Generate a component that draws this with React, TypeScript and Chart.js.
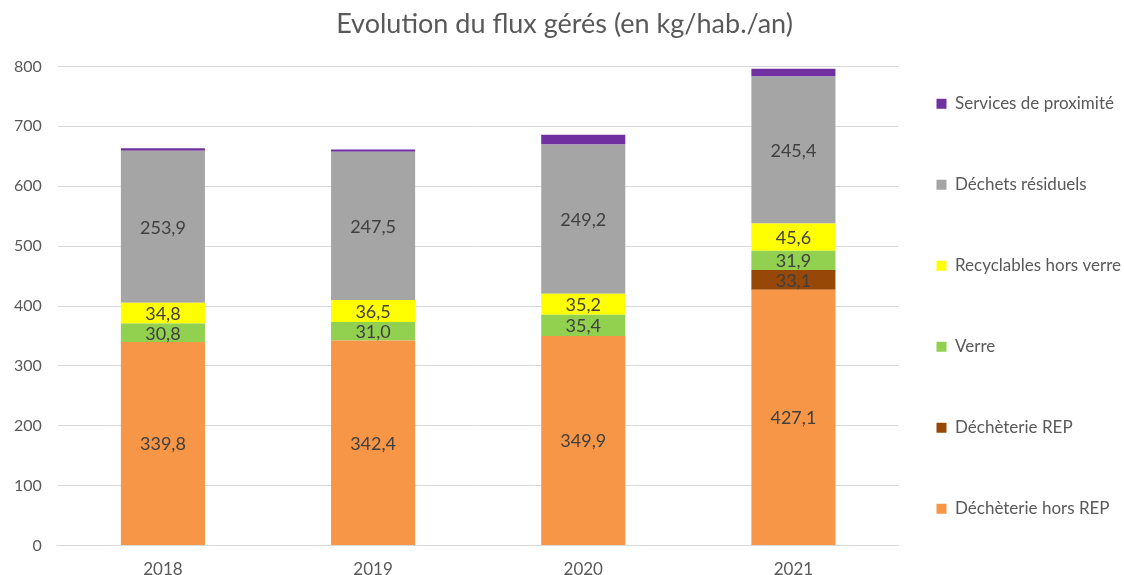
import React, { useEffect, useRef } from "react";
import { Chart, registerables } from "chart.js";

Chart.register(...registerables);

const categories = ["2018", "2019", "2020", "2021"];
const horsREP = [339.8, 342.4, 349.9, 427.1];
const rep = [0, 0, 0, 33.1];
const verre = [30.8, 31.0, 35.4, 31.9];
const recyclables = [34.8, 36.5, 35.2, 45.6];
const residuels = [253.9, 247.5, 249.2, 245.4];
const services = [4, 4, 16, 13];
const yTicks = [0, 100, 200, 300, 400, 500, 600, 700, 800];

const FONT = "Lato, 'Open Sans', sans-serif";

const labelPlugin = {
  id: "barLabels",
  afterDatasetsDraw(chart: any) {
    const ctx = chart.ctx;
    ctx.save();
    ctx.font = `18px ${FONT}`;
    ctx.fillStyle = "#404040";
    ctx.textAlign = "center";
    ctx.textBaseline = "middle";
    chart.data.datasets.forEach((ds: any, di: number) => {
      if (ds.noLabel) return;
      const meta = chart.getDatasetMeta(di);
      meta.data.forEach((el: any, i: number) => {
        const v = ds.data[i];
        if (!v) return;
        const y = (el.y + el.base) / 2;
        ctx.fillText(v.toFixed(1).replace(".", ","), el.x, y + 1);
      });
    });
    ctx.restore();
  },
};

export default function App() {
  const ref = useRef<HTMLCanvasElement>(null);
  useEffect(() => {
    document.body.style.margin = "0";
    const mk = (label: string, data: number[], color: string, noLabel = false) => ({
      label,
      data,
      backgroundColor: color,
      borderWidth: 0,
      categoryPercentage: 1,
      barPercentage: 0.4,
      noLabel,
    });
    const chart = new Chart(ref.current!, {
      type: "bar",
      data: {
        labels: categories,
        datasets: [
          mk("Déchèterie hors REP", horsREP, "#F79646"),
          mk("Déchèterie REP", rep, "#974706"),
          mk("Verre", verre, "#92D050"),
          mk("Recyclables hors verre", recyclables, "#FFFF00"),
          mk("Déchets résiduels", residuels, "#A5A5A5"),
          mk("Services de proximité", services, "#7030A0", true),
        ] as any,
      },
      options: {
        animation: false,
        responsive: false,
        maintainAspectRatio: false,
        layout: { padding: { left: -2, right: -7, top: 4, bottom: -19 } },
        plugins: {
          title: {
            display: true,
            text: "Evolution du flux gérés (en kg/hab./an)",
            color: "#595959",
            font: { family: FONT, size: 27, weight: "normal" },
            padding: { top: 4, bottom: 26 },
          },
          legend: {
            position: "right",
            reverse: true,
            title: {
              display: true,
              text: " ",
              font: { family: FONT, size: 12 },
              padding: 13,
            },
            labels: {
              boxWidth: 10,
              boxHeight: 10,
              padding: 38,
              color: "#595959",
              font: { family: FONT, size: 17, lineHeight: "43px" },
              generateLabels: (chart: any) => {
                const items = Chart.defaults.plugins.legend.labels.generateLabels(chart);
                return items.map((it: any) => ({ ...it, text: [it.text] }));
              },
            },
          },
          tooltip: { enabled: false },
        },
        scales: {
          x: {
            stacked: true,
            grid: { display: false, drawTicks: false },
            border: { color: "#d9d9d9" },
            ticks: { color: "#595959", font: { family: FONT, size: 17 }, padding: 14 },
          },
          y: {
            stacked: true,
            min: 0,
            max: 800,
            afterBuildTicks: (axis: any) => {
              axis.ticks = yTicks.map((v) => ({ value: v }));
            },
            grid: { color: "#d9d9d9", drawTicks: false },
            border: { display: false },
            ticks: { color: "#595959", font: { family: FONT, size: 16 }, padding: 16 },
          },
        },
      },
      plugins: [labelPlugin],
    });
    return () => chart.destroy();
  }, []);
  return (
    <div style={{ width: 1124, height: 575 }}>
      <canvas ref={ref} width={1124} height={575} style={{ width: 1124, height: 575, display: "block" }} />
    </div>
  );
}
